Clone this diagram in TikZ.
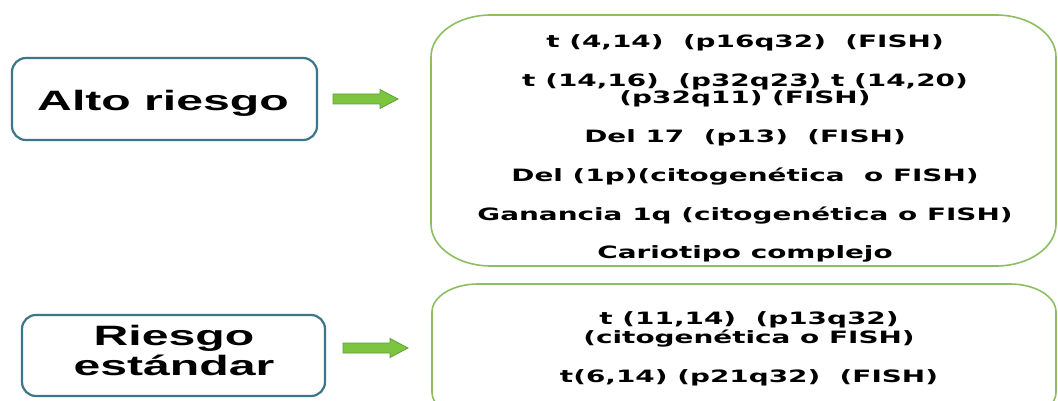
\documentclass[tikz,border=0pt]{standalone}
\usepackage{fontspec}
\newfontfamily\lf[FakeStretch=1.72]{Liberation Sans}
\newfontfamily\rf[FakeStretch=1.64]{DejaVu Sans}
\definecolor{boxteal}{HTML}{3E7689}
\definecolor{boxgreen}{HTML}{8DBE62}
\definecolor{arrowgreen}{HTML}{7CC540}
\definecolor{arrowedge}{HTML}{62A034}
% elliptic rounded box: x1,y1,x2,y2,rx,ry
\newcommand\eroundbox[6]{%
  \draw[gbox] ({#1+#5},#2) -- ({#3-#5},#2)
    .. controls ({#3-0.448*#5},#2) and (#3,{#2+0.448*#6}) .. (#3,{#2+#6})
    -- (#3,{#4-#6})
    .. controls (#3,{#4-0.448*#6}) and ({#3-0.448*#5},#4) .. ({#3-#5},#4)
    -- ({#1+#5},#4)
    .. controls ({#1+0.448*#5},#4) and (#1,{#4-0.448*#6}) .. (#1,{#4-#6})
    -- (#1,{#2+#6})
    .. controls (#1,{#2+0.448*#6}) and ({#1+0.448*#5},#2) .. ({#1+#5},#2) -- cycle;}
\begin{document}
\begin{tikzpicture}[x=1pt,y=-1pt,
  lbox/.style={draw=boxteal, line width=2.2pt, rounded corners=14pt, inner sep=0pt},
  ltext/.style={font=\lf\bfseries\fontsize{28}{30}\selectfont, anchor=base, inner sep=0pt},
  rtext/.style={font=\rf\bfseries\fontsize{17}{18}\selectfont, anchor=base, inner sep=0pt},
  gbox/.style={draw=boxgreen, line width=1.6pt},
  barrow/.style={fill=arrowgreen, draw=arrowedge, line width=0.8pt}]
\useasboundingbox (0,0) rectangle (1058,401);
\clip (0,0) rectangle (1058,401);
\fill[white] (0,0) rectangle (1058,401);

% left boxes
\node[lbox, minimum width=305pt, minimum height=82pt] (alto) at (164.5,99) {};
\node[ltext] (altotxt) at (163,111) {Alto riesgo};
\node[lbox, minimum width=303pt, minimum height=81pt] (std) at (173.5,355.5) {};
\node[ltext] (stdtxt1) at (174,345) {Riesgo};
\node[ltext] (stdtxt2) at (174,375) {estándar};

% arrows
\coordinate (a1) at (333,99);
\draw[barrow] (a1) ++(0,-5) -- ++(47,0) -- ++(0,-4.5) -- ++(18,9.5) -- ++(-18,9.5) -- ++(0,-4.5) -- ++(-47,0) -- cycle;
\coordinate (a2) at (343,348);
\draw[barrow] (a2) ++(0,-5) -- ++(47,0) -- ++(0,-4.5) -- ++(18,9.5) -- ++(-18,9.5) -- ++(0,-4.5) -- ++(-47,0) -- cycle;

% right boxes
\eroundbox{431}{15}{1056}{266}{60}{42}
\eroundbox{432}{284}{1056}{420}{46}{28}

% high-risk list
\node[rtext] (h1) at (745,48) {t (4,14)~ (p16q32)~ (FISH)};
\node[rtext] (h2a) at (745,87) {t (14,16)~ (p32q23) t (14,20)};
\node[rtext] (h2b) at (745,104) {(p32q11) (FISH)};
\node[rtext] (h3) at (745,143) {Del 17~ (p13)~ (FISH)};
\node[rtext] (h4) at (745,182) {Del (1p)(citogenética~ o FISH)};
\node[rtext] (h5) at (745,220) {Ganancia 1q (citogenética o FISH)};
\node[rtext] (h6) at (745,258) {Cariotipo complejo};

% standard-risk list
\node[rtext] (s1a) at (749,324) {t (11,14)~ (p13q32)};
\node[rtext] (s1b) at (749,343) {(citogenética o FISH)};
\node[rtext] (s2) at (749,382) {t(6,14) (p21q32)~ (FISH)};
\end{tikzpicture}
\end{document}
